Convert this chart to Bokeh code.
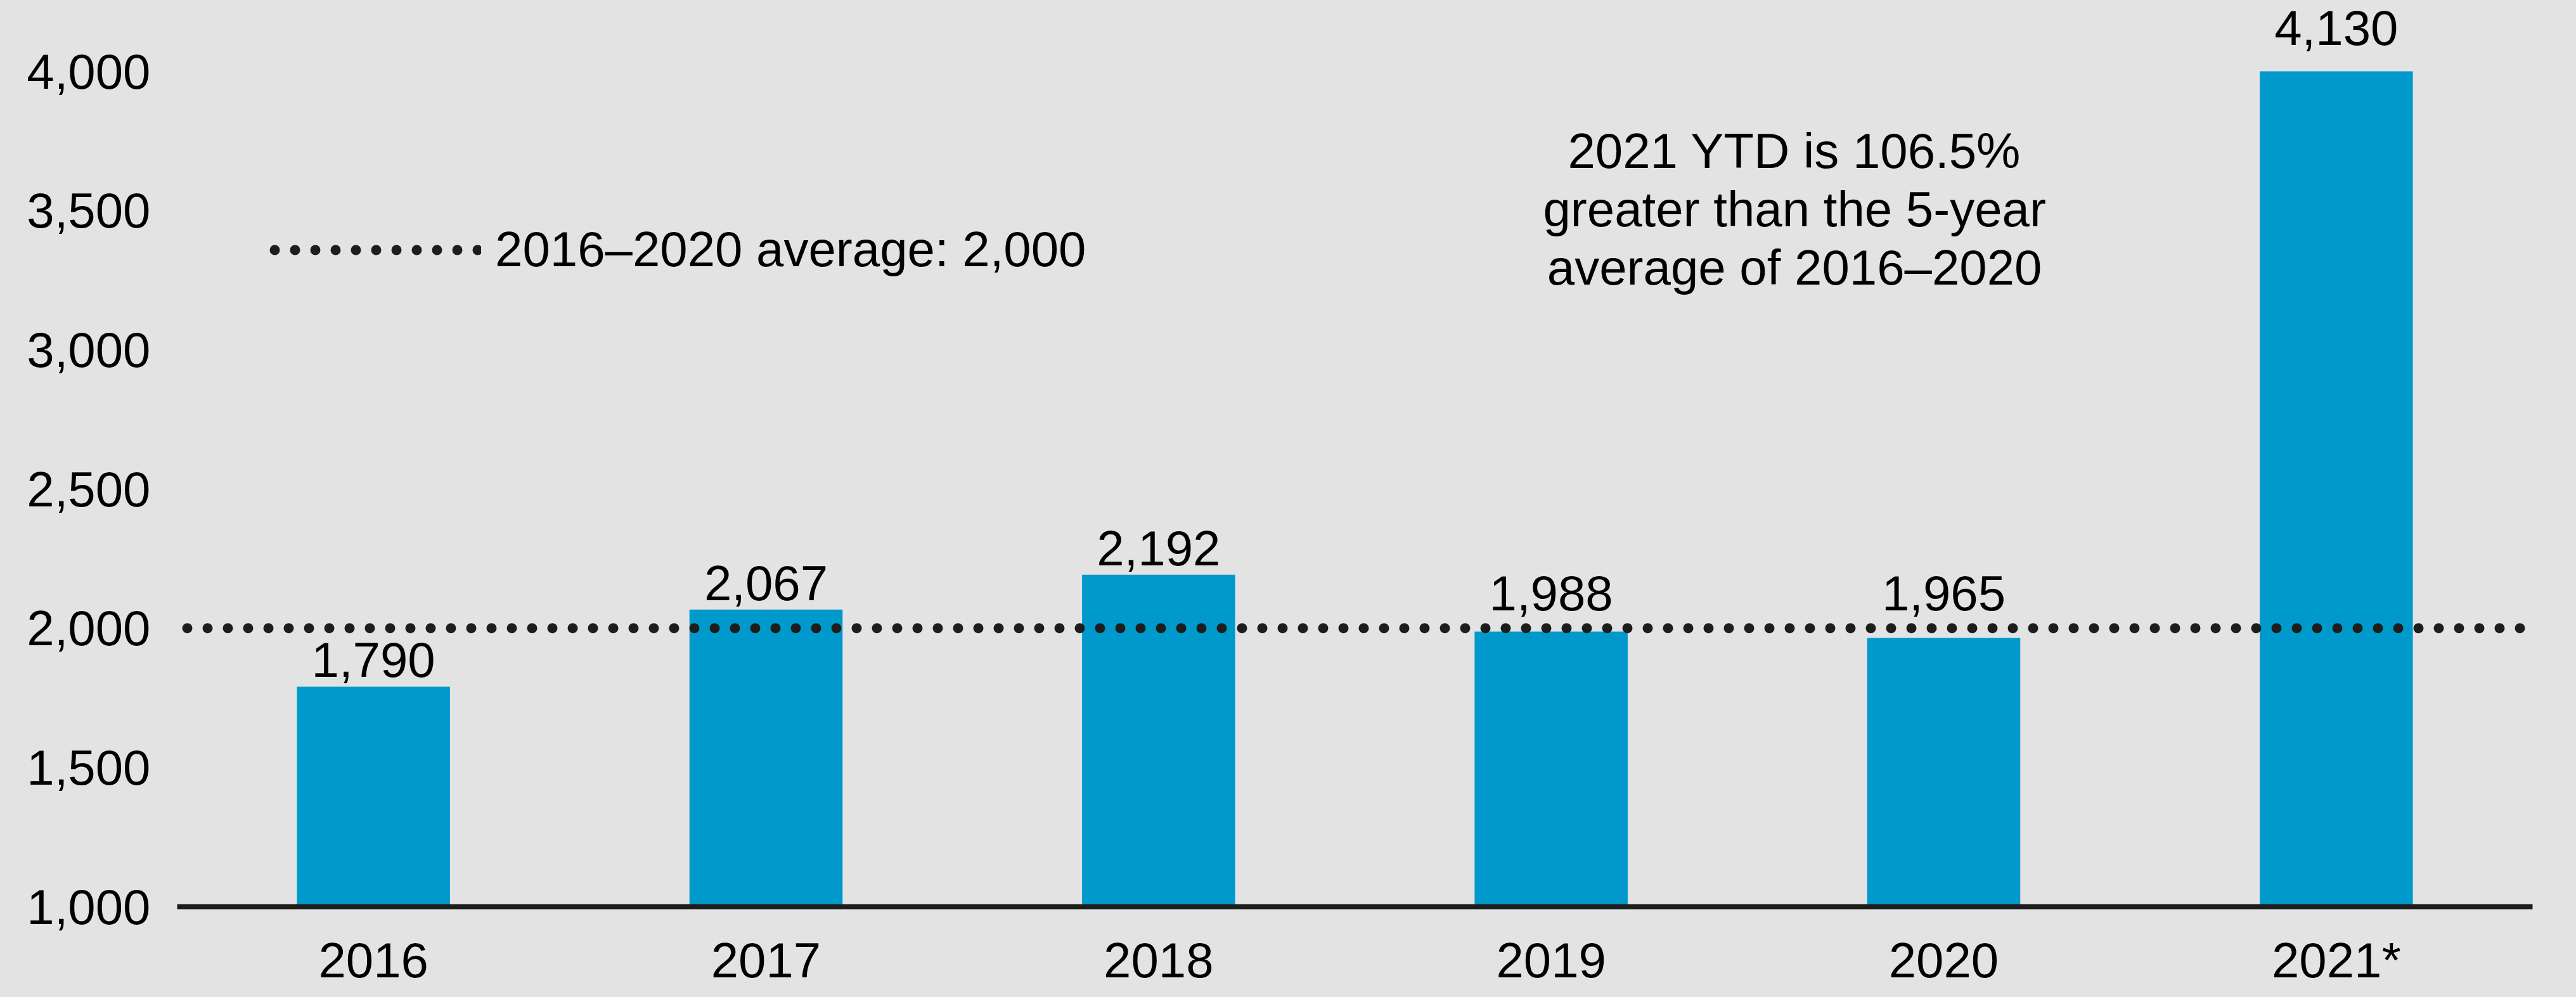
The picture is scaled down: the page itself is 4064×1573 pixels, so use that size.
import numpy as np
from bokeh.plotting import figure
from bokeh.models import (ColumnDataSource, FixedTicker, NumeralTickFormatter, Legend,
                          LegendItem, Label, LabelSet, FactorRange, Range1d)
from bokeh.core.properties import value
from bokeh.embed import file_html
from bokeh.resources import INLINE

# ---- data ----
years = ["2016", "2017", "2018", "2019", "2020", "2021*"]
counts = [1790, 2067, 2192, 1988, 1965, 4130]
avg_value = 2000
avg_period = ["2016", "2020"]
ytd_year = "2021"
y_ticks = [1000, 1500, 2000, 2500, 3000, 3500, 4000]

# ---- style ----
Y_MIN, Y_CAP, Y_TOP = 1000, 4000, 4255
FONT = "Liberation Sans"
FS = "78px"
BAR = "#0099cc"
BG = "#e3e3e3"
INK = "#1d1d1b"

counts_arr = np.array(counts, dtype=float)
bar_top = np.minimum(counts_arr, Y_CAP)
gap = avg_value - bar_top
bumped = (gap >= 0) & (gap < 150)
label_y = np.where(bumped, avg_value, bar_top)
label_off = np.where(counts_arr > Y_CAP, 42, np.where(bumped, 28, 15))

src = ColumnDataSource(dict(
    x=years, top=bar_top, ly=label_y, off=label_off,
    txt=[f"{int(c):,}" for c in counts],
))

p = figure(width=4056, height=1565, x_range=FactorRange(*years, range_padding=0),
           y_range=Range1d(Y_MIN, Y_TOP), output_backend="svg", toolbar_location=None,
           min_border_left=279, min_border_right=61, min_border_top=0, min_border_bottom=135,
           background_fill_color=BG, border_fill_color=BG, outline_line_color=None)

p.vbar(x="x", top="top", bottom=Y_MIN, width=0.39, source=src, fill_color=BAR, line_color=None)

avg_src = ColumnDataSource(dict(x=[0, len(years)], y=[avg_value, avg_value]))
avg_r = p.line("x", "y", source=avg_src, line_color=INK, line_width=16,
               line_dash="0 32", line_dash_offset=-16, line_cap="round")

labels = LabelSet(x="x", y="ly", text="txt", y_offset="off", source=src,
                  text_align="center", text_baseline="alphabetic",
                  text_font=value(FONT), text_font_size=FS, text_color="black")
p.add_layout(labels)

legend = Legend(items=[LegendItem(label=f"{avg_period[0]}\u2013{avg_period[1]} average: {avg_value:,}",
                                  renderers=[avg_r])],
                location=(138, 991), glyph_width=342, glyph_height=80, label_height=80,
                label_standoff=22, padding=0, margin=0, spacing=0,
                label_text_font=FONT, label_text_font_size=FS, label_text_color="black",
                background_fill_alpha=0, border_line_color=None)
p.add_layout(legend)

pct = (counts_arr[-1] / avg_value - 1) * 100
note = Label(x=4.12, y=3505,
             text=f"{ytd_year} YTD is {pct:.1f}%\ngreater than the 5-year\naverage of {avg_period[0]}\u2013{avg_period[1]}",
             text_align="center", text_baseline="middle", text_font=FONT, text_font_size=FS,
             text_color="black", text_line_height=1.04)
p.add_layout(note)

p.xgrid.grid_line_color = None
p.ygrid.grid_line_color = None

p.yaxis.ticker = FixedTicker(ticks=y_ticks)
p.yaxis.formatter = NumeralTickFormatter(format="0,0")
p.yaxis.axis_line_color = None
p.yaxis.major_tick_line_color = None
p.yaxis.minor_tick_line_color = None
p.yaxis.major_tick_out = 0
p.yaxis.minor_tick_out = 0
p.yaxis.major_label_standoff = 42
p.yaxis.major_label_text_font = FONT
p.yaxis.major_label_text_font_size = FS
p.yaxis.major_label_text_color = "black"

p.xaxis.axis_line_color = INK
p.xaxis.axis_line_width = 8
p.xaxis.major_tick_line_color = None
p.xaxis.minor_tick_line_color = None
p.xaxis.major_tick_out = 0
p.xaxis.minor_tick_out = 0
p.xaxis.major_label_standoff = 40
p.xaxis.major_label_text_font = FONT
p.xaxis.major_label_text_font_size = FS
p.xaxis.major_label_text_color = "black"

html = file_html(p, INLINE)
html = html.replace("</head>", f"<style>html,body{{background:{BG};}}</style></head>", 1)
open("out.html", "w").write(html)
